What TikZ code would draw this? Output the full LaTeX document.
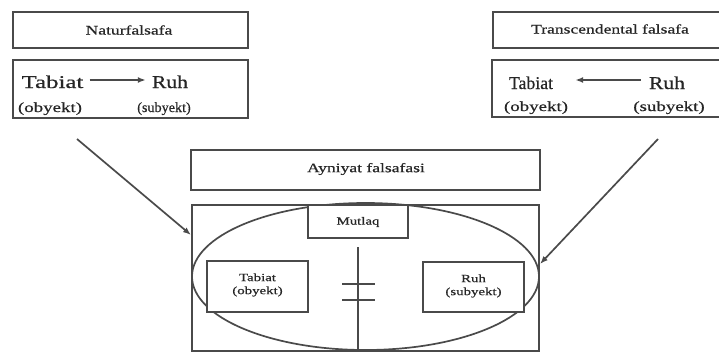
\documentclass[tikz,border=0pt]{standalone}
\usepackage{fontspec}
\setmainfont{Liberation Serif}
\newfontfamily\widefont[FakeStretch=1.35,FakeBold=0.6]{Liberation Serif}
\newfontfamily\bigfont[FakeStretch=1.2,FakeBold=0.4]{Liberation Serif}
\newcommand\sx[2]{\scalebox{#1}[1]{#2}}
\usetikzlibrary{arrows.meta}
\definecolor{ink}{HTML}{4A4A4A}
\definecolor{txt}{HTML}{262626}
\begin{document}
\begin{tikzpicture}[x=1pt,y=-1pt,
  frame/.style={draw=ink,line width=1.7pt,fill=white},
  title/.style={text=txt,font=\widefont\fontsize{13}{13}\selectfont,inner sep=0pt},
  bigtxt/.style={text=txt,font=\bigfont\fontsize{18}{18}\selectfont,inner sep=0pt,anchor=base},
  subtxt/.style={text=txt,font=\widefont\fontsize{14}{14}\selectfont,inner sep=0pt,anchor=base},
  smalltxt/.style={text=txt,font=\widefont\fontsize{11}{13}\selectfont,align=center,inner sep=0pt},
  conn/.style={draw=ink,line width=1.7pt},
  arr/.style={conn,-{Latex[length=8pt,width=6pt]}}]
\useasboundingbox (0,0) rectangle (719,353);
\fill[white] (0,0) rectangle (719,353);

% left top
\draw[frame] (13,12) rectangle (248,48);
\node[title] (nat) at (129,30) {Naturfalsafa};
\draw[frame] (13,60) rectangle (248,118);
\node[bigtxt] (lt) at (52.5,88) {\sx{1.15}{Tabiat}};
\node[bigtxt] (lr) at (170,88) {Ruh};
\node[subtxt] (lo) at (50,112) {(obyekt)};
\node[subtxt] (ls) at (164,112) {\sx{0.75}{(subyekt)}};
\draw[arr] ([xshift=6pt,yshift=8pt]lt.base east) -- ([xshift=-6pt,yshift=8pt]lr.base west);

% right top
\draw[frame] (493,12) rectangle (730,48);
\node[title] (tra) at (610,29) {Transcendental falsafa};
\draw[frame] (492,60) rectangle (730,117);
\node[bigtxt] (rt) at (531,89) {\sx{0.82}{Tabiat}};
\node[bigtxt] (rr) at (667,89) {Ruh};
\node[subtxt] (ro) at (536,111) {(obyekt)};
\node[subtxt] (rs) at (669,111) {(subyekt)};
\draw[arr] ([xshift=-8pt,yshift=9pt]rr.base west) -- ([xshift=22pt,yshift=9pt]rt.base east);

% middle
\draw[frame] (191,150) rectangle (540,190);
\node[title] (ayn) at (366,169) {Ayniyat falsafasi};
\draw[frame] (192,205) rectangle (539,351);
\draw[conn] (365.5,276.5) ellipse [x radius=173.5, y radius=73.5];
\draw[frame] (308,205) rectangle (408,238);
\node[smalltxt] (mut) at (358,222) {Mutlaq};
\draw[frame] (207,261) rectangle (308,312);
\node[smalltxt] (mt) at (257.5,285) {Tabiat\\(obyekt)};
\draw[frame] (423,262) rectangle (524,312);
\node[smalltxt] (mr) at (473.5,286) {Ruh\\(subyekt)};
\draw[conn] (358,247) -- (358,351);
\draw[conn] (342,284) -- (375,284);
\draw[conn] (342,300) -- (375,300);

% connectors
\coordinate (ls0) at (77,139);
\coordinate (le0) at (191,235);
\coordinate (rs0) at (658,139);
\coordinate (re0) at (540,264);
\draw[arr] (ls0) -- (le0);
\draw[arr] (rs0) -- (re0);
\end{tikzpicture}
\end{document}
